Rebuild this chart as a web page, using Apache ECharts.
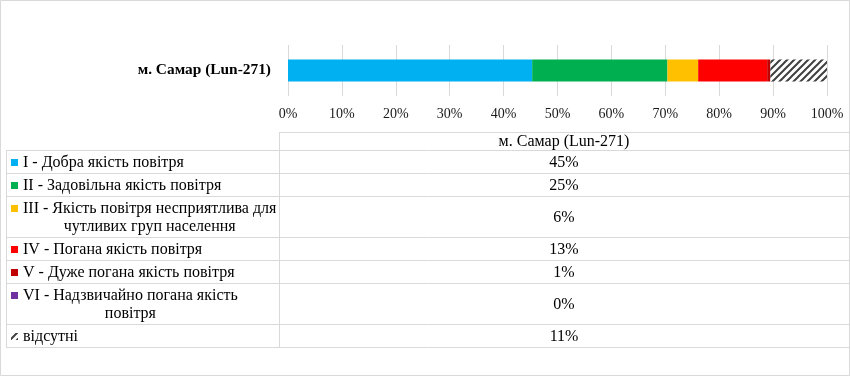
<!DOCTYPE html>
<html>
<head>
<meta charset="utf-8">
<script src="https://cdn.jsdelivr.net/npm/echarts@6/dist/echarts.min.js"></script>
<style>
  html, body { margin: 0; padding: 0; background: #fff; }
  #chart { width: 850px; height: 376px; }
</style>
</head>
<body>
<div id="chart"></div>
<script>
var station = 'м. Самар (Lun-271)';
var classNames = [
  'I - Добра якість повітря',
  'II - Задовільна якість повітря',
  'III - Якість повітря несприятлива для\nчутливих груп населення',
  'IV - Погана якість повітря',
  'V - Дуже погана якість повітря',
  'VI - Надзвичайно погана якість\nповітря',
  'відсутні'
];
var shares = [45.3, 25.1, 5.7, 12.8, 0.6, 0, 10.5];
var classColors = ['#00B0F0', '#00B050', '#FFC000', '#FF0000', '#C00000', '#7030A0', 'hatch'];

var font = '"Liberation Serif", "Times New Roman", serif';

function makeHatch () {
  var c = document.createElement('canvas');
  c.width = 7; c.height = 7;
  var g = c.getContext('2d');
  g.fillStyle = '#fff';
  g.fillRect(0, 0, 7, 7);
  g.strokeStyle = '#404040';
  g.lineWidth = 2;
  g.beginPath();
  g.moveTo(-1, 8); g.lineTo(8, -1);
  g.moveTo(-1, 1); g.lineTo(1, -1);
  g.moveTo(6, 8); g.lineTo(8, 6);
  g.stroke();
  return c;
}
var hatchFill = { image: makeHatch(), repeat: 'repeat' };

function fillOf (c) {
  return c === 'hatch' ? hatchFill : c;
}

function textWidth (s, size) {
  var c = document.createElement('canvas').getContext('2d');
  c.font = size + 'px ' + font;
  return c.measureText(s).width;
}

// table layout
var rowLines = [150, 173, 196, 237, 260, 283, 324, 347];
var tableLeft = 6, colX = 279, tableRight = 849, headTop = 132;
var lineColor = '#D9D9D9';
var cellFont = 16;

function drawTable () {
  var els = [];
  function hline (y, x1, x2) {
    els.push({ type: 'line', shape: { x1: x1, y1: y + 0.5, x2: x2, y2: y + 0.5 }, style: { stroke: lineColor, lineWidth: 1 }, silent: true });
  }
  function vline (x, y1, y2) {
    els.push({ type: 'line', shape: { x1: x + 0.5, y1: y1, x2: x + 0.5, y2: y2 }, style: { stroke: lineColor, lineWidth: 1 }, silent: true });
  }
  // chart border
  els.push({ type: 'rect', shape: { x: 0.5, y: 0.5, width: 849, height: 375 }, style: { fill: null, stroke: lineColor, lineWidth: 1 }, silent: true });

  hline(headTop, colX, tableRight);
  rowLines.forEach(function (y) { hline(y, tableLeft, tableRight); });
  vline(colX, headTop, rowLines[rowLines.length - 1] + 1);
  vline(tableLeft, rowLines[0], rowLines[rowLines.length - 1] + 1);

  els.push({
    type: 'text', x: (colX + tableRight) / 2, y: (headTop + rowLines[0]) / 2 + 1,
    style: { text: station, font: cellFont + 'px ' + font, fill: '#000', textAlign: 'center', textVerticalAlign: 'middle' }
  });

  classNames.forEach(function (name, i) {
    var top = rowLines[i], bottom = rowLines[i + 1];
    var cy = (top + bottom) / 2 + 1;
    var lines = name.split('\n');
    var firstY = lines.length > 1 ? cy - 9 : cy;
    els.push({
      type: 'rect', shape: { x: 11, y: Math.round(firstY) - 4, width: 7, height: 7 },
      style: { fill: fillOf(classColors[i]) }, silent: true
    });
    if (lines.length > 1) {
      var w = textWidth(lines[0], cellFont);
      els.push({
        type: 'text', x: 23 + w / 2, y: cy,
        style: { text: name, font: cellFont + 'px ' + font, fill: '#000', textAlign: 'center', textVerticalAlign: 'middle', lineHeight: 18 }
      });
    } else {
      els.push({
        type: 'text', x: 23, y: cy,
        style: { text: name, font: cellFont + 'px ' + font, fill: '#000', textAlign: 'left', textVerticalAlign: 'middle' }
      });
    }
    els.push({
      type: 'text', x: (colX + tableRight) / 2, y: cy,
      style: { text: Math.round(shares[i]) + '%', font: cellFont + 'px ' + font, fill: '#000', textAlign: 'center', textVerticalAlign: 'middle' }
    });
  });
  return els;
}

var chartDom = document.getElementById('chart');
var myChart = echarts.init(chartDom);
var option;

option = {
  animation: false,
  backgroundColor: '#fff',
  grid: { left: 288, right: 23, top: 45, height: 51, containLabel: false, outerBoundsMode: 'none' },
  xAxis: {
    type: 'value',
    min: 0,
    max: 100,
    interval: 10,
    axisLine: { show: false },
    axisTick: { show: false },
    splitLine: { lineStyle: { color: lineColor } },
    axisLabel: { formatter: '{value}%', color: '#1a1a1a', fontFamily: font, fontSize: 14, margin: 11 }
  },
  yAxis: {
    type: 'category',
    data: [station],
    axisLine: { show: false },
    axisTick: { show: false },
    axisLabel: { color: '#000', fontFamily: font, fontSize: 15.4, fontWeight: 'bold', margin: 17 }
  },
  series: classNames.map(function (name, i) {
    return {
      name: name,
      type: 'bar',
      stack: 'total',
      barWidth: 22,
      data: [shares[i]],
      itemStyle: { color: fillOf(classColors[i]) }
    };
  }),
  graphic: drawTable()
};

option && myChart.setOption(option);
</script>
</body>
</html>
